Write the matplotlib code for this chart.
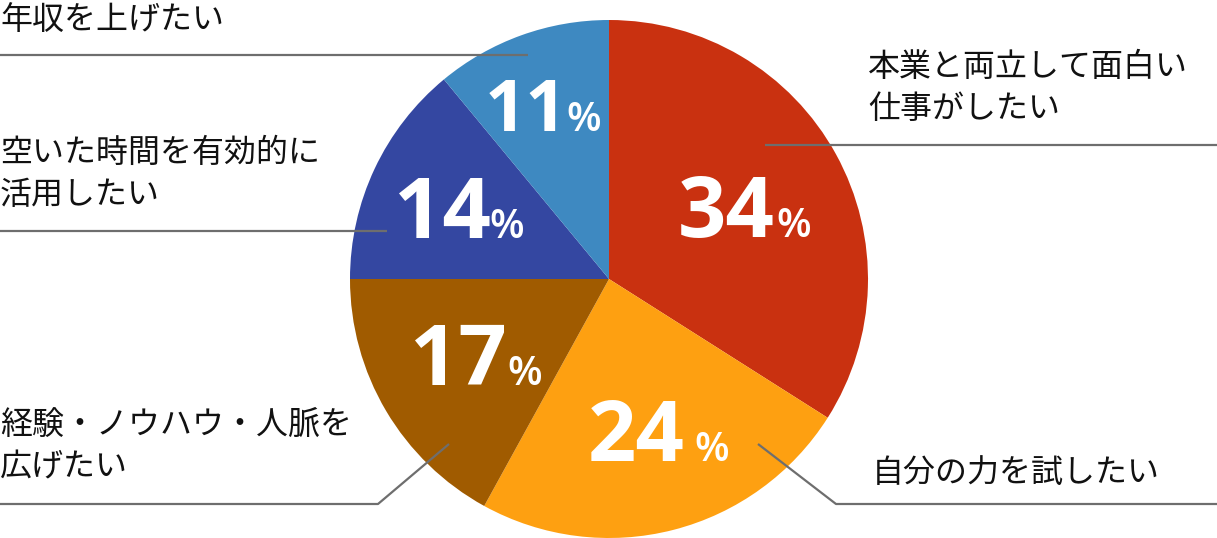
import matplotlib
matplotlib.use('Agg')
import matplotlib.pyplot as plt

# data
categories = ['本業と両立して面白い\n仕事がしたい', '自分の力を試したい',
              '経験・ノウハウ・人脈を\n広げたい', '空いた時間を有効的に\n活用したい',
              '年収を上げたい']
shares = [34, 24, 17, 14, 11]
colors = ['#C93110', '#FEA011', '#A05B00', '#3447A1', '#3E89C1']

W, H = 1217, 538
CX, CY, R = 609, 279, 259


def fy(py):
    # pixel row -> data y
    return H - py


plt.rcParams['font.family'] = ['Noto Sans CJK JP', 'DejaVu Sans']

fig = plt.figure(figsize=(W / 100, H / 100), dpi=100)
ax = fig.add_axes([0, 0, 1, 1])

ax.pie(shares, colors=colors, startangle=90, counterclock=False,
       center=(CX, fy(CY)), radius=R, frame=True,
       wedgeprops=dict(linewidth=0))
ax.set_xlim(0, W)
ax.set_ylim(0, H)
ax.set_aspect('equal')
ax.axis('off')

# percent labels: (digit centre x, % centre x, baseline y, digit size)
pct_pos = [(726, 794, 237, 61), (636, 712, 461, 61), (458, 525, 385, 61),
           (442, 507, 238, 61), (526, 584, 131, 52)]
for v, (dx, px, by, fs) in zip(shares, pct_pos):
    ax.text(dx, fy(by), str(v), color='white', fontsize=fs, fontweight='bold',
            family='Open Sans', ha='center', va='baseline')
    ax.text(px, fy(by), '%', color='white', fontsize=29, fontweight='semibold',
            family='Open Sans', ha='center', va='baseline')

# leader lines
leaders = [[(765, 145), (1217, 145)],
           [(758, 444), (836, 504), (1217, 504)],
           [(449, 444), (378, 504), (0, 504)],
           [(387, 231), (0, 231)],
           [(528, 55), (0, 55)]]
for pts in leaders:
    ax.plot([p[0] for p in pts], [fy(p[1]) for p in pts],
            color='#6e6e6e', lw=1.6, solid_capstyle='butt')

# category labels: (x, first line centre y)
label_pos = [(868, 67), (872, 473), (0, 425), (0, 153), (0, 20)]
for name, (lx, ly) in zip(categories, label_pos):
    for i, line in enumerate(name.split('\n')):
        ax.text(lx, fy(ly + i * 42), line, fontsize=23, color='#111111',
                ha='left', va='center')

fig.savefig('out.png', dpi=100)
